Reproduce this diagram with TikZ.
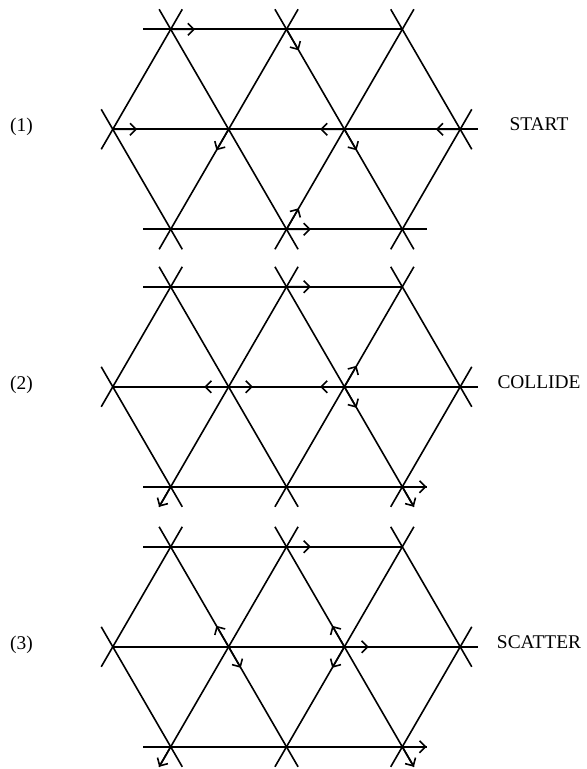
\documentclass[tikz,border=0pt]{standalone}
\usepackage{fontspec}
\setmainfont{Liberation Serif}
\usetikzlibrary{calc,arrows.meta}

\begin{document}
\begin{tikzpicture}[x=0.5pt, y=-0.5pt, line width=0.8pt,
    particle/.style={-{Straight Barb[length=3pt,width=6pt]}},
    tag/.style={font=\fontsize{9.7}{11}\selectfont}]
  \useasboundingbox (0,0) rectangle (587,769);

  % the three lattices
  \foreach \p/\dy/\word in {1/0/START, 2/257.5/COLLIDE, 3/517.5/SCATTER} {
    \coordinate (T1-\p) at (170.7, 29.3+\dy);
    \coordinate (T2-\p) at (286.5, 29.3+\dy);
    \coordinate (T3-\p) at (402.3, 29.3+\dy);
    \coordinate (M0-\p) at (112.8, 129.3+\dy);
    \coordinate (M1-\p) at (228.6, 129.3+\dy);
    \coordinate (M2-\p) at (344.4, 129.3+\dy);
    \coordinate (M3-\p) at (460.2, 129.3+\dy);
    \coordinate (B1-\p) at (170.7, 229.3+\dy);
    \coordinate (B2-\p) at (286.5, 229.3+\dy);
    \coordinate (B3-\p) at (402.3, 229.3+\dy);
    % horizontal lines
    \draw ($(T1-\p)!-0.237!(T2-\p)$) -- (T3-\p);
    \draw (M0-\p) -- ($(M3-\p)!-0.155!(M2-\p)$);
    \draw ($(B1-\p)!-0.237!(B2-\p)$) -- ($(B3-\p)!-0.21!(B2-\p)$);
    % rising lines
    \draw ($(M0-\p)!-0.2!(T1-\p)$) -- ($(T1-\p)!-0.2!(M0-\p)$);
    \draw ($(B1-\p)!-0.1!(T2-\p)$) -- ($(T2-\p)!-0.1!(B1-\p)$);
    \draw ($(B2-\p)!-0.1!(T3-\p)$) -- ($(T3-\p)!-0.1!(B2-\p)$);
    \draw ($(B3-\p)!-0.2!(M3-\p)$) -- ($(M3-\p)!-0.2!(B3-\p)$);
    % falling lines
    \draw ($(M0-\p)!-0.2!(B1-\p)$) -- ($(B1-\p)!-0.2!(M0-\p)$);
    \draw ($(T1-\p)!-0.1!(B2-\p)$) -- ($(B2-\p)!-0.1!(T1-\p)$);
    \draw ($(T2-\p)!-0.1!(B3-\p)$) -- ($(B3-\p)!-0.1!(T2-\p)$);
    \draw ($(T3-\p)!-0.2!(M3-\p)$) -- ($(M3-\p)!-0.2!(T3-\p)$);
    % labels
    \node[tag] (num-\p)  at (21.5, 127+\dy) {(\p)};
    \node[tag] (word-\p) at (539, 124.5+\dy) {\word};
  }

  % particles: from / towards / fraction
  \foreach \a/\b/\f in {T1-1/T2-1/0.21, T2-1/M2-1/0.21, M0-1/M1-1/0.21,
      M2-1/M1-1/0.21, M3-1/M2-1/0.21, M1-1/B1-1/0.21, M2-1/B3-1/0.21,
      B2-1/M2-1/0.21, B2-1/B3-1/0.21,
      T2-2/T3-2/0.21, M1-2/M0-2/0.21, M1-2/M2-2/0.21, M2-2/M1-2/0.21,
      M2-2/T3-2/0.21, M2-2/B3-2/0.21, B3-2/B2-2/-0.21, B1-2/M1-2/-0.2,
      B3-2/M2-2/-0.2,
      T2-3/T3-3/0.21, M1-3/T1-3/0.21, M1-3/B2-3/0.21, M2-3/T2-3/0.21,
      M2-3/B2-3/0.21, M2-3/M3-3/0.21, B3-3/B2-3/-0.21, B1-3/M1-3/-0.2,
      B3-3/M2-3/-0.2}
    \draw[particle] (\a) -- ($(\a)!\f!(\b)$);
\end{tikzpicture}
\end{document}
